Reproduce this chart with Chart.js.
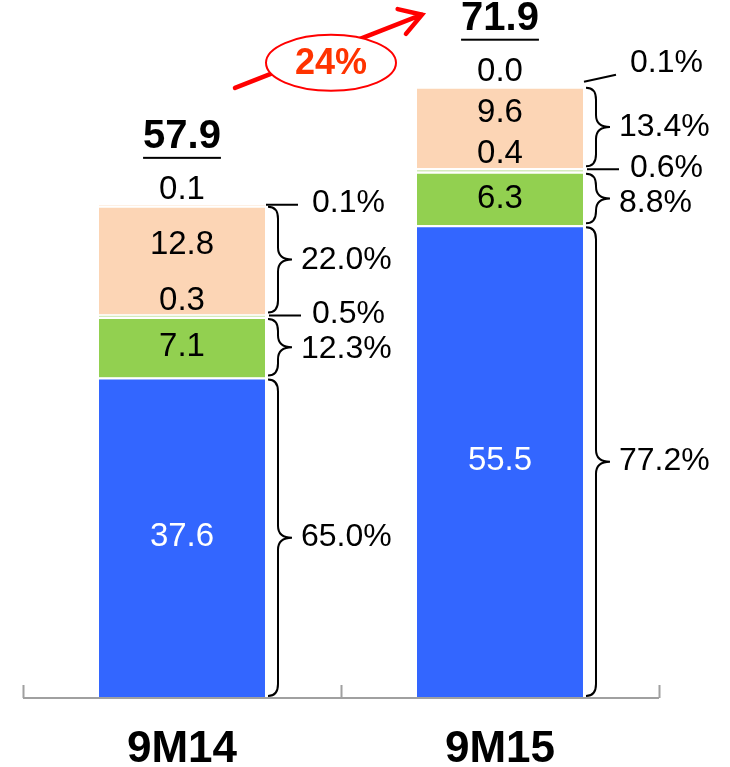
<!DOCTYPE html>
<html>
<head>
<meta charset="utf-8">
<script src="https://cdn.jsdelivr.net/npm/chart.js@4"></script>
<style>
  html, body { margin: 0; padding: 0; background: #fff; }
  #wrap { width: 730px; height: 767px; }
</style>
</head>
<body>
<div id="wrap"><canvas id="mixChart" width="730" height="767"></canvas></div>
<script>
/* ====== DATA ====== */
const categories = ["9M14", "9M15"];

// segments from bottom to top
const blueVals  = [37.6, 55.5];
const greenVals = [7.1, 6.3];
const lightVals = [0.3, 0.4];
const peachVals = [12.8, 9.6];
const topVals   = [0.1, 0.0];

const totals = [57.9, 71.9];

// share of total per segment
const blueShare  = ["65.0%", "77.2%"];
const greenShare = ["12.3%", "8.8%"];
const lightShare = ["0.5%", "0.6%"];
const peachShare = ["22.0%", "13.4%"];
const topShare   = ["0.1%", "0.1%"];

const growthLabel = "24%";

/* ====== HELPERS ====== */
const FONT = "'Liberation Sans', Arial, Helvetica, sans-serif";

function brace(ctx, x0, y1, y2) {
  const xs = x0 + 10, xt = x0 + 24;
  const mid = (y1 + y2) / 2;
  const r = Math.min(12, (y2 - y1) / 4);
  ctx.beginPath();
  ctx.moveTo(x0, y1);
  ctx.quadraticCurveTo(xs, y1, xs, y1 + r);
  ctx.lineTo(xs, mid - r);
  ctx.quadraticCurveTo(xs, mid, xt, mid);
  ctx.quadraticCurveTo(xs, mid, xs, mid + r);
  ctx.lineTo(xs, y2 - r);
  ctx.quadraticCurveTo(xs, y2, x0, y2);
  ctx.stroke();
}

/* ====== LABELS, BRACES, AXIS ====== */
const annotate = {
  id: "annotate",
  afterDatasetsDraw(chart) {
    const ctx = chart.ctx;
    const metas = [0, 1, 2, 3, 4].map(d => chart.getDatasetMeta(d).data);
    const values = [blueVals, greenVals, lightVals, peachVals, topVals];

    ctx.save();
    ctx.textBaseline = "middle";

    categories.forEach((cat, i) => {
      const blue = metas[0][i], green = metas[1][i], light = metas[2][i],
            peach = metas[3][i], top = metas[4][i];
      const cx = blue.x;
      const right = blue.x + blue.width / 2;

      // values inside / above segments
      ctx.font = "33px " + FONT;
      ctx.textAlign = "center";
      ctx.fillStyle = "#fff";
      ctx.fillText(values[0][i].toFixed(1), cx, (blue.y + blue.base) / 2);
      ctx.fillStyle = "#000";
      ctx.fillText(values[1][i].toFixed(1), cx, (green.y + green.base) / 2);
      ctx.fillText(values[3][i].toFixed(1), cx, (peach.y + peach.base) / 2 - 15);
      ctx.fillText(values[2][i].toFixed(1), cx, light.y - 14);
      ctx.fillText(values[4][i].toFixed(1), cx, top.y - 15);

      // totals, bold and underlined
      ctx.font = "bold 40px " + FONT;
      const ty = top.y - 68;
      const tTxt = totals[i].toFixed(1);
      ctx.fillText(tTxt, cx, ty);
      const tw = ctx.measureText(tTxt).width;
      ctx.fillRect(cx - tw / 2, ty + 20, tw, 2);

      // braces with shares
      ctx.strokeStyle = "#000";
      ctx.lineWidth = 2;
      ctx.font = "32px " + FONT;
      ctx.textAlign = "left";
      const bx = right + 3;
      brace(ctx, bx, blue.y + 2, blue.base - 1);
      ctx.fillText(blueShare[i], right + 36, (blue.y + blue.base) / 2);

      brace(ctx, bx, green.y + 2, green.base - 2);
      const lightTextY = light.y;
      const gy = Math.max((green.y + green.base) / 2, lightTextY + 35);
      ctx.fillText(greenShare[i], right + 36, gy);

      brace(ctx, bx, peach.y + 1, peach.base - 2);
      ctx.fillText(peachShare[i], right + 36, (peach.y + peach.base) / 2);

      // thin segments: leader line and share
      ctx.beginPath();
      ctx.moveTo(right + 4, light.y + 1);
      ctx.lineTo(right + 36, light.y + 1);
      ctx.stroke();
      ctx.fillText(lightShare[i], right + 47, lightTextY);

      const lift = i === 1 ? 22 : 0;
      ctx.beginPath();
      ctx.moveTo(right + 1, top.y - (lift ? 5 : 0));
      ctx.lineTo(right + 33, top.y - (lift ? 12 : 0));
      ctx.stroke();
      ctx.fillText(topShare[i], right + 47, top.y - 2 - lift);
    });
    ctx.restore();
  },
  afterDraw(chart) {
    const ctx = chart.ctx;
    const x = chart.scales.x;
    const area = chart.chartArea;
    ctx.save();

    // category axis with boundary ticks
    const axY = area.bottom + 1;
    ctx.strokeStyle = "#a0a0a0";
    ctx.lineWidth = 2;
    ctx.beginPath();
    ctx.moveTo(x.left, axY);
    ctx.lineTo(x.right, axY);
    const step = (x.right - x.left) / categories.length;
    for (let k = 0; k <= categories.length; k++) {
      const tx = Math.round(x.left + k * step) + 0.5;
      ctx.moveTo(tx, axY);
      ctx.lineTo(tx, axY - 13);
    }
    ctx.stroke();

    ctx.fillStyle = "#000";
    ctx.font = "bold 44px " + FONT;
    ctx.textAlign = "center";
    ctx.textBaseline = "middle";
    categories.forEach((c, i) => ctx.fillText(c, x.getPixelForValue(i), area.bottom + 53));

    // growth arrow between the two totals
    const b1 = chart.getDatasetMeta(4).data[0];
    const b2 = chart.getDatasetMeta(4).data[1];
    const x0 = b1.x + 53, y0 = b1.y - 117;
    const x1 = b2.x - b2.width / 2 + 5, y1 = b2.y - 72;
    ctx.strokeStyle = "#ff0000";
    ctx.lineWidth = 4.5;
    ctx.lineCap = "round";
    ctx.beginPath();
    ctx.moveTo(x0, y0);
    ctx.lineTo(x1, y1);
    const ang = Math.atan2(y1 - y0, x1 - x0) + Math.PI;
    const arm = 25;
    ctx.moveTo(x1 + arm * Math.cos(ang - 0.5), y1 + arm * Math.sin(ang - 0.5));
    ctx.lineTo(x1, y1);
    ctx.lineTo(x1 + arm * Math.cos(ang + 0.6), y1 + arm * Math.sin(ang + 0.6));
    ctx.stroke();

    const ex = (x.getPixelForValue(0) + x.getPixelForValue(1)) / 2 - 10;
    const ey = y0 - 25;
    ctx.beginPath();
    ctx.ellipse(ex, ey, 65, 28, 0, 0, Math.PI * 2);
    ctx.fillStyle = "#fff";
    ctx.fill();
    ctx.lineWidth = 2;
    ctx.stroke();
    ctx.fillStyle = "#ff3300";
    ctx.font = "bold 36px " + FONT;
    ctx.fillText(growthLabel, ex, ey + 1);
    ctx.restore();
  }
};

/* ====== CHART ====== */
const seg = (data, color) => ({
  data,
  backgroundColor: color,
  borderColor: "#fff",
  borderWidth: { top: 2, left: 0, right: 0, bottom: 0 },
  borderSkipped: "start",
  categoryPercentage: 1,
  barPercentage: 0.522
});

new Chart(document.getElementById("mixChart"), {
  type: "bar",
  data: {
    labels: categories,
    datasets: [
      seg(blueVals, "#3366ff"),
      seg(greenVals, "#92d050"),
      seg(lightVals, "#d4eabc"),
      seg(peachVals, "#fcd5b5"),
      seg(topVals, "#fcd5b5")
    ]
  },
  options: {
    responsive: false,
    devicePixelRatio: 1,
    animation: false,
    layout: { padding: { left: 23, right: 71, top: 17, bottom: 70 } },
    plugins: { legend: { display: false }, tooltip: { enabled: false } },
    scales: {
      x: { stacked: true, display: false },
      y: { stacked: true, display: false, min: 0, max: 80 }
    }
  },
  plugins: [annotate]
});
</script>
</body>
</html>
